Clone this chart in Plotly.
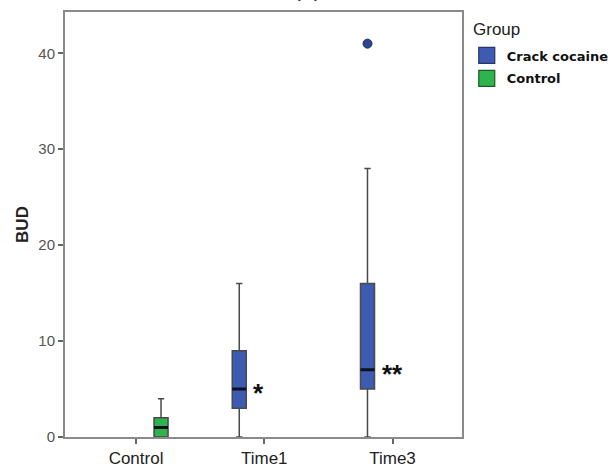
import plotly.graph_objects as go

# ---- data ----
categories = ["Control", "Time1", "Time3"]

crack_x = ["Time1", "Time3"]
crack_lower = [0, 0]
crack_q1 = [3, 5]
crack_median = [5, 7]
crack_q3 = [9, 16]
crack_upper = [16, 28]

outlier_x = ["Time3"]
outlier_y = [41]

control_x = ["Control"]
control_lower = [0]
control_q1 = [0]
control_median = [1]
control_q3 = [2]
control_upper = [4]

sig_x = ["Time1", "Time3"]
sig_text = ["*", "**"]
sig_y = crack_median

y_ticks = [0, 10, 20, 30, 40]

# ---- styles ----
BLUE = "#3d5bb0"
BLUE_EDGE = "#27356b"
GREEN = "#2fb34c"
GREEN_EDGE = "#1f5a2c"
WHISKER = "#4a4a4a"
FONT = "Liberation Sans, Arial, sans-serif"

fig = go.Figure()

# Crack cocaine boxes
fig.add_trace(go.Box(
    name="Crack cocaine", x=crack_x,
    q1=crack_q1, median=crack_median, q3=crack_q3,
    lowerfence=crack_lower, upperfence=crack_upper,
    boxpoints=False, offsetgroup="crack", alignmentgroup="g",
    fillcolor=BLUE, line=dict(color=WHISKER, width=1.5),
    whiskerwidth=0.45, showlegend=False, hoverinfo="skip",
))
# Control box
fig.add_trace(go.Box(
    name="Control", x=control_x,
    q1=control_q1, median=control_median, q3=control_q3,
    lowerfence=control_lower, upperfence=control_upper,
    boxpoints=False, offsetgroup="control", alignmentgroup="g",
    fillcolor=GREEN, line=dict(color=WHISKER, width=1.5),
    whiskerwidth=0.45, showlegend=False, hoverinfo="skip",
))
# thick median overlays
fig.add_trace(go.Box(
    x=crack_x, q1=crack_median, median=crack_median, q3=crack_median,
    lowerfence=crack_median, upperfence=crack_median,
    offsetgroup="crack", alignmentgroup="g", boxpoints=False,
    fillcolor="rgba(0,0,0,0)", line=dict(color="#0d1020", width=3),
    whiskerwidth=0, showlegend=False, hoverinfo="skip",
))
fig.add_trace(go.Box(
    x=control_x, q1=control_median, median=control_median, q3=control_median,
    lowerfence=control_median, upperfence=control_median,
    offsetgroup="control", alignmentgroup="g", boxpoints=False,
    fillcolor="rgba(0,0,0,0)", line=dict(color="#0d1020", width=3),
    whiskerwidth=0, showlegend=False, hoverinfo="skip",
))
# outlier point (drawn at the crack-cocaine box position)
fig.add_trace(go.Box(
    x=outlier_x, y=outlier_y, offsetgroup="crack", alignmentgroup="g",
    boxpoints="all", jitter=0, pointpos=0,
    fillcolor="rgba(0,0,0,0)", line=dict(color="rgba(0,0,0,0)", width=0),
    marker=dict(color="#2b4690", size=9, line=dict(color="#1c2c5e", width=1)),
    showlegend=False, hoverinfo="skip",
))

# legend proxies
fig.add_trace(go.Scatter(
    x=[None], y=[None], mode="markers", name="Crack cocaine", legendgroup="a",
    marker=dict(symbol="square", size=16, color=BLUE, line=dict(color=BLUE_EDGE, width=1.2)),
))
fig.add_trace(go.Scatter(
    x=[None], y=[None], mode="markers", name="Control", legendgroup="b",
    marker=dict(symbol="square", size=16, color=GREEN, line=dict(color=GREEN_EDGE, width=1.2)),
))

# significance stars
for xv, yv, t in zip(sig_x, sig_y, sig_text):
    fig.add_annotation(
        x=xv, y=yv, text=f"<b>{t}</b>", showarrow=False,
        xanchor="left", yanchor="middle", xshift=-13,
        yshift=-4, font=dict(family=FONT, size=26, color="#111"),
    )

# legend title as text
fig.add_annotation(
    xref="paper", yref="paper", x=1.0227, y=0.96, text="Group",
    showarrow=False, xanchor="left", yanchor="middle",
    font=dict(family=FONT, size=17, color="#222"),
)
# panel label, cropped at the very top as in the reference
fig.add_annotation(
    xref="paper", yref="paper", x=0.61, y=1.02, text="(A)",
    showarrow=False, xanchor="center", yanchor="bottom",
    font=dict(family=FONT, size=20, color="#222"),
)

fig.update_layout(
    width=611, height=468,
    margin=dict(l=65, r=149, t=12, b=31, autoexpand=False),
    paper_bgcolor="white", plot_bgcolor="white",
    boxmode="group", boxgap=0.22, boxgroupgap=0.72,
    legend=dict(
        x=1.012, y=0.933, xanchor="left", yanchor="top",
        font=dict(family="DejaVu Sans, sans-serif", size=13, color="#111", weight="bold"),
        bgcolor="rgba(0,0,0,0)", tracegroupgap=3, itemwidth=30,
    ),
    font=dict(family=FONT),
)
fig.update_xaxes(
    type="category", categoryorder="array", categoryarray=categories,
    range=[-0.554, 2.542], automargin=False,
    showline=True, mirror=True, linecolor="#8a8a8a", linewidth=2,
    ticks="outside", ticklen=5, tickwidth=1.5, tickcolor="#666",
    tickfont=dict(family=FONT, size=17, color="#222"),
    showgrid=False, zeroline=False,
)
fig.update_yaxes(
    range=[0, 44.3], tickvals=y_ticks, automargin=False,
    showline=True, mirror=True, linecolor="#8a8a8a", linewidth=2,
    ticks="outside", ticklen=5, tickwidth=1.5, tickcolor="#666",
    tickfont=dict(family=FONT, size=15, color="#555"),
    title=dict(text="<b>BUD</b>", font=dict(family=FONT, size=17, color="#222"), standoff=5),
    showgrid=False, zeroline=False,
)

fig.write_html(
    "out.html",
    config={"displayModeBar": False},
    post_script="document.body.style.margin='0';document.body.style.overflow='hidden';",
)
